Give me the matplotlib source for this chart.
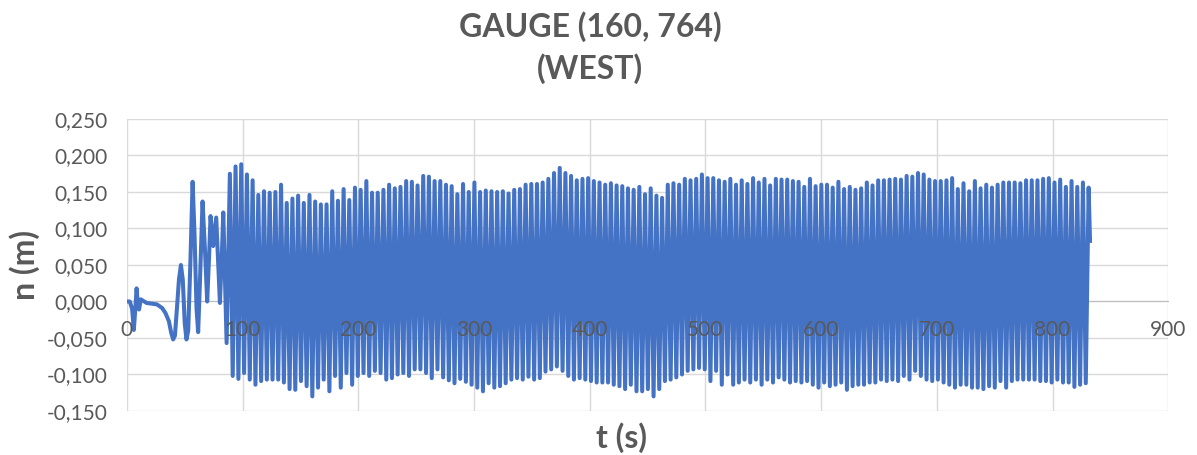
import matplotlib.pyplot as plt
from matplotlib.ticker import FuncFormatter
import numpy as np

# early part of the record (before the regular oscillation starts)
t_early = [0, 2.5, 4.5, 6, 7.2, 8.4, 9.5, 10.5, 12, 17, 26, 30.5, 33.4, 36.3, 38.3,
           40, 41.5, 43, 45, 46.7, 48.3, 50, 51.5, 53, 55, 56.8, 58.5, 60.2, 61.6,
           63.2, 65.4, 67.5, 69.4, 71, 72.3, 74.6, 77.2, 79, 80.4, 82, 83.3, 84.8, 86.2]
n_early = [0.0, 0.0, -0.010, -0.039, -0.012, 0.018, -0.005, -0.011, 0.003, -0.002,
           -0.004, -0.009, -0.016, -0.027, -0.043, -0.052, -0.047, -0.015, 0.030, 0.050,
           0.030, -0.030, -0.052, -0.040, 0.060, 0.164, 0.090, -0.010, -0.042, 0.030,
           0.137, 0.070, 0.000, 0.060, 0.117, 0.076, 0.115, 0.050, -0.002, 0.060, 0.122,
           0.030, -0.057]

# regular oscillation: first crest time and wave period (s)
t_first_crest = 89.0
period = 4.915

crests = [
    0.175, 0.185, 0.188, 0.174, 0.166, 0.146, 0.151, 0.149, 0.150, 0.160, 0.135, 0.141,
    0.145, 0.135, 0.146, 0.137, 0.133,
    0.133, 0.151, 0.138, 0.154, 0.139, 0.156, 0.153, 0.165, 0.149, 0.149, 0.153, 0.160,
    0.155, 0.157, 0.165, 0.164, 0.159, 0.172, 0.171, 0.165, 0.165,
    0.160, 0.158, 0.147, 0.161, 0.150, 0.163, 0.150, 0.152, 0.151, 0.150, 0.151, 0.148,
    0.153, 0.154, 0.160, 0.161, 0.161, 0.163, 0.168, 0.176, 0.183,
    0.176, 0.172, 0.166, 0.168, 0.169, 0.165, 0.163, 0.160, 0.162, 0.159, 0.158, 0.155,
    0.153, 0.157, 0.147, 0.155, 0.145, 0.142, 0.160, 0.162, 0.160, 0.168,
    0.166, 0.168, 0.174, 0.169, 0.169, 0.166, 0.164, 0.168, 0.160, 0.166, 0.161, 0.169,
    0.163, 0.168, 0.159, 0.168, 0.167, 0.167, 0.165, 0.164, 0.157,
    0.168, 0.158, 0.160, 0.160, 0.156, 0.164, 0.154, 0.157, 0.153, 0.155, 0.163, 0.159,
    0.166, 0.166, 0.167, 0.168, 0.167, 0.172, 0.171, 0.176, 0.174,
    0.167, 0.165, 0.165, 0.166, 0.169, 0.154, 0.162, 0.151, 0.165, 0.155, 0.160, 0.156,
    0.160, 0.163, 0.163, 0.163, 0.162, 0.166, 0.166, 0.166, 0.168,
    0.169, 0.163, 0.167, 0.157, 0.165, 0.157, 0.163, 0.156,
]

troughs = [
    -0.102, -0.106, -0.098, -0.107, -0.114, -0.109, -0.107, -0.107, -0.107, -0.111,
    -0.120, -0.121, -0.109, -0.116, -0.130, -0.118,
    -0.107, -0.123, -0.102, -0.118, -0.098, -0.114, -0.102, -0.098, -0.102, -0.095,
    -0.098, -0.107, -0.105, -0.100, -0.098, -0.102, -0.093, -0.093, -0.098, -0.105,
    -0.093,
    -0.104, -0.108, -0.112, -0.106, -0.110, -0.114, -0.118, -0.123, -0.112, -0.118,
    -0.116, -0.112, -0.107, -0.105, -0.107, -0.103, -0.107, -0.105, -0.096, -0.093,
    -0.089,
    -0.095, -0.102, -0.107, -0.105, -0.107, -0.109, -0.111, -0.111, -0.111, -0.114,
    -0.116, -0.120, -0.114, -0.123, -0.123, -0.120, -0.130, -0.120, -0.109, -0.107,
    -0.104, -0.100,
    -0.095, -0.093, -0.091, -0.093, -0.109, -0.095, -0.114, -0.100, -0.114, -0.111,
    -0.107, -0.111, -0.107, -0.114, -0.107, -0.111, -0.104, -0.107, -0.111, -0.109,
    -0.111,
    -0.109, -0.114, -0.118, -0.111, -0.116, -0.114, -0.111, -0.121, -0.116, -0.114,
    -0.114, -0.111, -0.111, -0.107, -0.109, -0.107, -0.109, -0.102, -0.107, -0.095,
    -0.102,
    -0.107, -0.109, -0.107, -0.111, -0.114, -0.118, -0.114, -0.114, -0.118, -0.118,
    -0.120, -0.116, -0.118, -0.109, -0.118, -0.109, -0.107, -0.107, -0.107, -0.107,
    -0.109,
    -0.109, -0.111, -0.107, -0.111, -0.111, -0.117, -0.114, -0.112,
]

# last recorded sample after the final crest
t_end_offset = 1.2
n_end = 0.083

x_ticks = [0, 100, 200, 300, 400, 500, 600, 700, 800, 900]
y_ticks = [-0.15, -0.10, -0.05, 0.0, 0.05, 0.10, 0.15, 0.20, 0.25]

# build the series: crest, trough, crest, ...
n_cycles = min(len(crests), len(troughs) + 1)
t_crest = t_first_crest + period * np.arange(n_cycles)
t_trough = t_crest[:-1] + period / 2
t_wave = np.empty(2 * n_cycles - 1)
n_wave = np.empty(2 * n_cycles - 1)
t_wave[0::2] = t_crest
n_wave[0::2] = crests[:n_cycles]
t_wave[1::2] = t_trough
n_wave[1::2] = troughs[:n_cycles - 1]

t = np.concatenate([t_early, t_wave, [t_crest[-1] + t_end_offset]])
n = np.concatenate([n_early, n_wave, [n_end]])

grey = '#595959'
grid_c = '#D9D9D9'
plt.rcParams['font.family'] = ['Lato', 'DejaVu Sans']

fig = plt.figure(figsize=(11.97, 4.55), dpi=100)
ax = fig.add_axes([0.106, 0.0967, 0.870, 0.6418])

for yv in y_ticks:
    ax.axhline(yv, color=grid_c, lw=1.0, zorder=0)
for xv in x_ticks:
    ax.axvline(xv, color=grid_c, lw=1.0, zorder=0)

ax.plot(t, n, color='#4472C4', lw=2.9, solid_joinstyle='round', zorder=2)

ax.set_xlim(0, 900)
ax.set_ylim(-0.15, 0.25)
ax.set_xticks(x_ticks)
ax.set_yticks(y_ticks)
ax.yaxis.set_major_formatter(FuncFormatter(lambda v, p: f'{v:.3f}'.replace('.', ',')))
ax.tick_params(length=0, labelsize=15, labelcolor=grey)
ax.tick_params(axis='y', pad=14)
ax.tick_params(axis='x', pad=13)

for s in ['top', 'right', 'left']:
    ax.spines[s].set_visible(False)
ax.spines['bottom'].set_position(('data', 0))
ax.spines['bottom'].set_color('#BFBFBF')
ax.spines['bottom'].set_zorder(0.5)
ax.xaxis.set_zorder(3)

ax.set_ylabel('n (m)', fontsize=23, fontweight='bold', color=grey)
ax.yaxis.label.set_va('center')
ax.yaxis.set_label_coords(-0.098, 0.5)
ax.set_xlabel('t (s)', fontsize=23, fontweight='bold', color=grey)
ax.xaxis.label.set_va('center')
ax.xaxis.set_label_coords(0.475, -0.09)

fig.suptitle('GAUGE (160, 764)\n(WEST)', fontsize=23, fontweight='bold', color=grey,
             x=0.493, y=0.975, linespacing=1.45)

fig.savefig('out.png', dpi=100)
